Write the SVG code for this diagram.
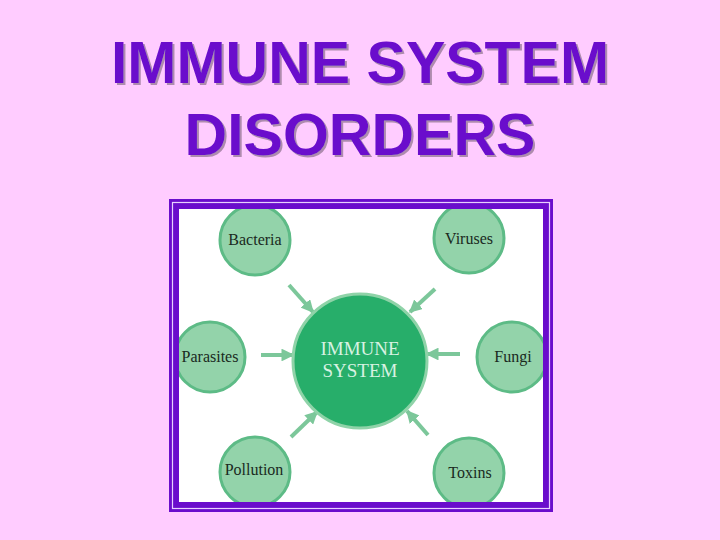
<svg xmlns="http://www.w3.org/2000/svg" width="720" height="540" viewBox="0 0 720 540">
<style>
.title{font-family:"Liberation Sans",Arial,sans-serif;font-weight:bold;font-size:59px;text-anchor:middle;fill:#6a0dcc}
.node circle{fill:#93d3aa;stroke:#5dbb86;stroke-width:3}
.lbl{font-family:"Liberation Serif","Times New Roman",serif;font-size:16px;fill:#1a2a1e;text-anchor:middle}
.conn line{stroke:#7cc79a;stroke-width:4;stroke-linecap:butt}
</style>
<defs>
<filter id="shadow" x="-5%" y="-20%" width="110%" height="140%">
<feDropShadow dx="2" dy="2" stdDeviation="0.4" flood-color="#9a7a9a" flood-opacity="0.8"/>
</filter>
<clipPath id="inner"><rect x="179" y="209" width="364" height="293"/></clipPath>
<marker id="ah" viewBox="0 0 10 10" refX="9" refY="5" markerWidth="3.2" markerHeight="3.2" orient="auto" markerUnits="strokeWidth">
<path d="M0,0 L10,5 L0,10 z" fill="#7cc79a"/>
</marker>
</defs>
<rect width="720" height="540" fill="#ffccff"/>
<g id="title" filter="url(#shadow)">
<text class="title" x="360" y="83">IMMUNE SYSTEM</text>
<text class="title" x="360" y="155">DISORDERS</text>
</g>
<g id="frame">
<rect x="169" y="199" width="384" height="313" fill="#6a0dcc"/>
<rect x="172.5" y="202.5" width="377" height="306" fill="none" stroke="#e8d0ff" stroke-width="1.2"/>
<rect x="179" y="209" width="364" height="293" fill="#ffffff"/>
</g>
<g clip-path="url(#inner)">
<g class="conn" id="connectors">
<line x1="289" y1="285" x2="313" y2="312" marker-end="url(#ah)"/>
<line x1="435" y1="289" x2="410" y2="312" marker-end="url(#ah)"/>
<line x1="261" y1="355" x2="293" y2="355" marker-end="url(#ah)"/>
<line x1="460" y1="354" x2="427" y2="354" marker-end="url(#ah)"/>
<line x1="291" y1="437" x2="317" y2="412" marker-end="url(#ah)"/>
<line x1="428" y1="435" x2="407" y2="411" marker-end="url(#ah)"/>
</g>
<g id="immune">
<circle cx="360" cy="361" r="67" fill="#27ae6a" stroke="#8fd3a8" stroke-width="3"/>
<text x="360" y="355" font-family="'Liberation Serif','Times New Roman',serif" font-size="19" fill="#d8f2e2" text-anchor="middle">IMMUNE</text>
<text x="360" y="377" font-family="'Liberation Serif','Times New Roman',serif" font-size="19" fill="#d8f2e2" text-anchor="middle">SYSTEM</text>
</g>
<g class="node" id="bacteria"><circle cx="255" cy="240" r="35"/><text class="lbl" x="255" y="245">Bacteria</text></g>
<g class="node" id="viruses"><circle cx="469" cy="238" r="35"/><text class="lbl" x="469" y="244">Viruses</text></g>
<g class="node" id="parasites"><circle cx="210" cy="357" r="35"/><text class="lbl" x="210" y="362">Parasites</text></g>
<g class="node" id="fungi"><circle cx="512" cy="357" r="35"/><text class="lbl" x="513" y="362">Fungi</text></g>
<g class="node" id="pollution"><circle cx="255" cy="472" r="35"/><text class="lbl" x="254" y="475">Pollution</text></g>
<g class="node" id="toxins"><circle cx="469" cy="473" r="35"/><text class="lbl" x="470" y="478">Toxins</text></g>
</g>
</svg>
